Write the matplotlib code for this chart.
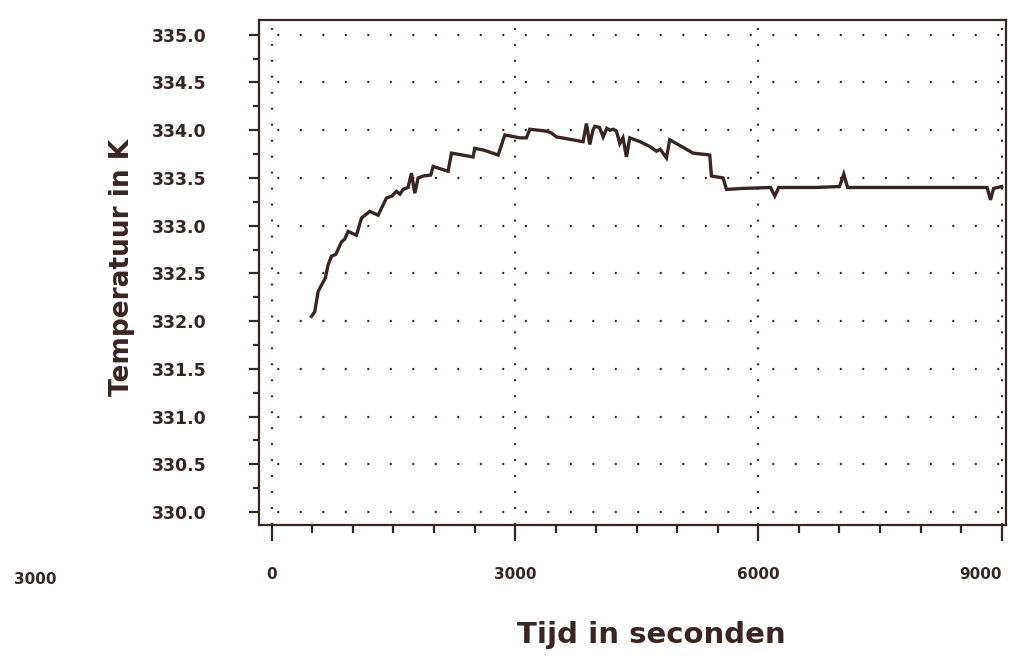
import matplotlib
matplotlib.use('Agg')
import matplotlib.pyplot as plt
from matplotlib.ticker import MultipleLocator, FixedLocator

# data (tijd in s, temperatuur in K)
tijd = [489, 530, 571, 633, 660, 694, 736, 790, 859, 900, 941, 1044, 1106, 1150,
        1208, 1311, 1414, 1480, 1537, 1580, 1619, 1680, 1722, 1763, 1804, 1866,
        1960, 1989, 2174, 2215, 2482, 2503, 2620, 2791, 2873, 3060, 3140, 3181,
        3387, 3450, 3510, 3838, 3880, 3921, 3960, 3983, 4040, 4085, 4130, 4170,
        4210, 4250, 4291, 4330, 4373, 4414, 4540, 4660, 4743, 4790, 4866, 4907,
        5195, 5400, 5421, 5565, 5606, 5800, 6150, 6202, 6250, 6700, 7000, 7053,
        7100, 7600, 8200, 8820, 8862, 8900, 9000]
temp = [332.05, 332.10, 332.31, 332.41, 332.45, 332.59, 332.68, 332.70, 332.83,
        332.86, 332.94, 332.90, 333.08, 333.11, 333.15, 333.11, 333.29, 333.31,
        333.36, 333.33, 333.38, 333.40, 333.55, 333.34, 333.50, 333.52, 333.53,
        333.62, 333.57, 333.76, 333.72, 333.81, 333.79, 333.74, 333.95, 333.92,
        333.92, 334.01, 333.99, 333.97, 333.93, 333.88, 334.07, 333.85, 334.00,
        334.04, 334.03, 333.93, 334.02, 334.00, 334.01, 333.99, 333.86, 333.92,
        333.72, 333.92, 333.88, 333.83, 333.78, 333.80, 333.71, 333.90, 333.76,
        333.74, 333.52, 333.50, 333.38, 333.39, 333.40, 333.31, 333.40, 333.40,
        333.41, 333.54, 333.40, 333.40, 333.40, 333.40, 333.27, 333.39, 333.41]

y_ticks = [330.0, 330.5, 331.0, 331.5, 332.0, 332.5, 333.0, 333.5, 334.0, 334.5, 335.0]
x_ticks = [0, 3000, 6000, 9000]

ink = '#3a2520'
plt.rcParams['lines.scale_dashes'] = False

fig = plt.figure(figsize=(10.19, 6.58), dpi=100)
ax = fig.add_axes([0.254, 0.202, 0.733, 0.768])

# dotted grid
for yv in y_ticks:
    ax.axhline(yv, color=ink, lw=1.6, ls=(3, (1.4, 14.8)), zorder=1)
for xv in x_ticks:
    ax.axvline(xv, color=ink, lw=1.6, ls=(0, (1.4, 10.1)), zorder=1)

ax.plot(tijd, temp, color=ink, lw=2.4, solid_joinstyle='miter', zorder=3)

ax.set_xlim(-160, 9050)
ax.set_ylim(329.864, 335.157)

ax.yaxis.set_major_locator(FixedLocator(y_ticks))
ax.yaxis.set_minor_locator(MultipleLocator(0.25))
ax.xaxis.set_major_locator(FixedLocator(x_ticks))
ax.xaxis.set_minor_locator(MultipleLocator(500))
ax.set_yticklabels(['%.1f' % v for v in y_ticks], fontsize=12.5, fontweight='bold', color=ink)
ax.set_xticklabels([str(v) for v in x_ticks], fontsize=11, fontweight='bold', color=ink)
ax.get_xticklabels()[-1].set_horizontalalignment('right')
ax.get_xticklabels()[-1].set_x(9160)

ax.tick_params(axis='y', which='major', length=7.5, width=1.6, pad=30, colors=ink)
ax.tick_params(axis='y', which='minor', length=4, width=1.6, colors=ink)
ax.tick_params(axis='x', which='major', length=11.5, width=1.6, pad=19, colors=ink)
ax.tick_params(axis='x', which='minor', length=6, width=1.6, colors=ink)
for sp in ax.spines.values():
    sp.set_color(ink)
    sp.set_linewidth(1.6)

ax.set_ylabel('Temperatuur in K', fontsize=19, fontweight='bold', color=ink, va='center')
ax.yaxis.set_label_coords(-0.183, 0.509)
ax.set_xlabel('Tijd in seconden', fontsize=21, fontweight='bold', color=ink, va='center')
ax.xaxis.set_label_coords(0.526, -0.218)

fig.text(35 / 1019, 1 - 580 / 658, '3000', fontsize=11, fontweight='bold', color=ink,
         ha='center', va='center')

fig.savefig('out.png', dpi=100, facecolor='white')
